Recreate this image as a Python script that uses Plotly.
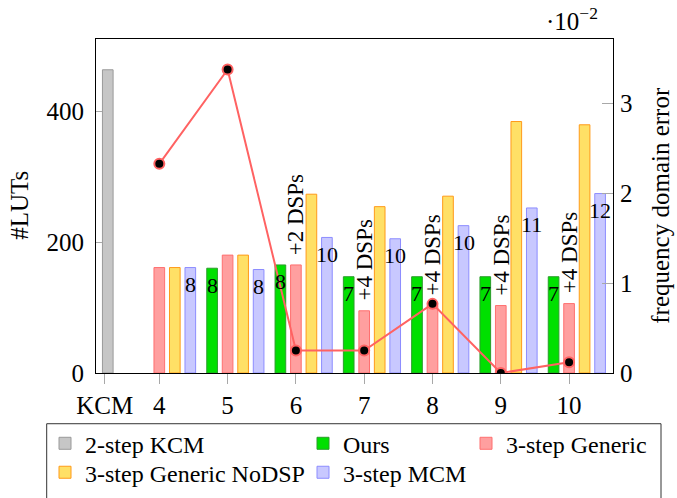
import plotly.graph_objects as go

# ---------------- data ----------------
categories = ["KCM", "4", "5", "6", "7", "8", "9", "10"]
cat_x = [3.2, 4, 5, 6, 7, 8, 9, 10]

kcm_2step = [463, None, None, None, None, None, None, None]
ours = [None, None, 160, 165, 147, 147, 147, 147]
generic = [None, 161, 180, 165, 95, 103, 103, 106]
generic_nodsp = [None, 161, 180, 273, 254, 270, 384, 379]
mcm = [None, 161, 158, 207, 205, 225, 252, 274]

freq_error = [None, 2.33, 3.38, 0.25, 0.25, 0.77, 0.0, 0.12]  # x 10^-2

ours_labels = [None, None, "8", "8", "7", "7", "7", "7"]
generic_labels = [None, None, None, "+2 DSPs", "+4 DSPs", "+4 DSPs", "+4 DSPs", "+4 DSPs"]
mcm_labels = [None, "8", "8", "10", "10", "10", "11", "12"]

left_ticks = [0, 200, 400]
right_ticks = [0, 1, 2, 3]

# ---------------- style ----------------
FONT = "Liberation Serif, Times New Roman, Tinos, DejaVu Serif, serif"
SLOT = 0.227
BAR_W = 0.156
FIG_W, FIG_H = 677, 498
L, T, W, H = 96, 39, 517, 334.5  # plot area in px


def px_x(px):   # window px -> paper
    return (px - L) / W


def px_y(py):
    return (T + H - py) / H


series = [
    # name, values, slot, fill, line, legend id
    ("2-step KCM", kcm_2step, 0.2, "#c6c6c6", "#9a9a9a", "legend"),
    ("Ours", ours, -1, "#00e000", "#2a9d2a", "legend2"),
    ("3-step Generic", generic, 0, "#ff9f9f", "#ff6f6f", "legend3"),
    ("3-step Generic NoDSP", generic_nodsp, 1, "#ffe066", "#ff9a1a", "legend4"),
    ("3-step MCM", mcm, 2, "#c8c8ff", "#8c8cff", "legend5"),
]

fig = go.Figure()
for name, vals, slot, fill, line, leg in series:
    fig.add_trace(go.Bar(
        x=cat_x, y=vals, name=name,
        width=BAR_W, offset=slot * SLOT - BAR_W / 2,
        marker=dict(color=fill, line=dict(color=line, width=1)),
        legend=leg, yaxis="y",
    ))

fig.add_trace(go.Scatter(
    x=cat_x, y=freq_error, yaxis="y2", mode="lines+markers",
    line=dict(color="#ff6262", width=2),
    marker=dict(color="black", size=10, line=dict(color="#ff6262", width=2)),
    showlegend=False,
))

annotations = []
for labels, vals, slot, size, kind in [
    (ours_labels, ours, -1, 22, "num"),
    (mcm_labels, mcm, 2, 22, "num"),
    (generic_labels, generic, 0, 23, "dsp"),
]:
    for xv, v, lab in zip(cat_x, vals, labels):
        if lab is None or v is None:
            continue
        if kind == "num":
            annotations.append(dict(
                x=xv + slot * SLOT, y=v, xref="x", yref="y", text=lab,
                showarrow=False, yanchor="middle", xanchor="center", yshift=-17,
                font=dict(family=FONT, size=size, color="black")))
        else:
            annotations.append(dict(
                x=xv + slot * SLOT, y=v, xref="x", yref="y", text=lab,
                showarrow=False, yanchor="bottom", xanchor="center", yshift=8,
                textangle=-90,
                font=dict(family=FONT, size=size, color="black")))

# axis titles & exponent
annotations += [
    dict(x=px_x(20), y=px_y(206), xref="paper", yref="paper", text="#LUTs",
         showarrow=False, xanchor="center", yanchor="middle", textangle=-90,
         font=dict(family=FONT, size=25, color="black")),
    dict(x=px_x(661), y=px_y(206), xref="paper", yref="paper",
         text="frequency domain error", showarrow=False, xanchor="center",
         yanchor="middle", textangle=-90,
         font=dict(family=FONT, size=25, color="black")),
    dict(x=px_x(572), y=px_y(19), xref="paper", yref="paper", text="·10<sup>−2</sup>",
         showarrow=False, xanchor="center", yanchor="middle",
         font=dict(family=FONT, size=25, color="black")),
]

legend_common = dict(bgcolor="rgba(0,0,0,0)", borderwidth=0, orientation="v",
                     font=dict(family=FONT, size=24, color="black"),
                     xanchor="left", yanchor="middle")
leg_pos = {
    "legend": (px_x(45), px_y(444.3)),
    "legend2": (px_x(303), px_y(444.3)),
    "legend3": (px_x(466), px_y(444.3)),
    "legend4": (px_x(45), px_y(473.3)),
    "legend5": (px_x(303), px_y(473.3)),
}
legends = {k: dict(legend_common, x=v[0], y=v[1]) for k, v in leg_pos.items()}

fig.update_layout(
    width=FIG_W, height=FIG_H,
    margin=dict(l=L, r=FIG_W - L - W, t=T, b=FIG_H - T - H, autoexpand=False),
    paper_bgcolor="white", plot_bgcolor="white",
    barmode="overlay",
    font=dict(family=FONT, size=25, color="black"),
    xaxis=dict(
        range=[3.073, 10.643], tickvals=cat_x, ticktext=categories,
        ticks="outside", ticklen=10, tickcolor="#a8a8a8", tickwidth=1,
        showline=True, linecolor="black", linewidth=1, mirror=True,
        showgrid=False, zeroline=False,
        tickfont=dict(family=FONT, size=25, color="black"),
    ),
    yaxis=dict(
        range=[0, 510], tickvals=left_ticks,
        ticks="inside", ticklen=6, tickcolor="#a8a8a8", tickwidth=1,
        showline=True, linecolor="black", linewidth=1, mirror=True,
        showgrid=False, zeroline=False, ticklabelstandoff=6,
        tickfont=dict(family=FONT, size=25, color="black"),
    ),
    yaxis2=dict(
        range=[0, 3.72], tickvals=right_ticks, overlaying="y", side="right",
        ticks="inside", ticklen=11, tickcolor="#a8a8a8", tickwidth=1,
        showline=False, showgrid=False, zeroline=False, ticklabelstandoff=6,
        tickfont=dict(family=FONT, size=25, color="black"),
    ),
    annotations=annotations,
    shapes=[dict(type="rect", xref="paper", yref="paper",
                 x0=px_x(46.7), x1=px_x(661),
                 y0=px_y(424.3), y1=px_y(505),
                 line=dict(color="#333333", width=1), fillcolor="rgba(0,0,0,0)")],
    **legends,
)

fig.write_html(
    "out.html",
    config={"displayModeBar": False},
    post_script="document.body.style.margin='0';document.body.style.overflow='hidden';",
)
